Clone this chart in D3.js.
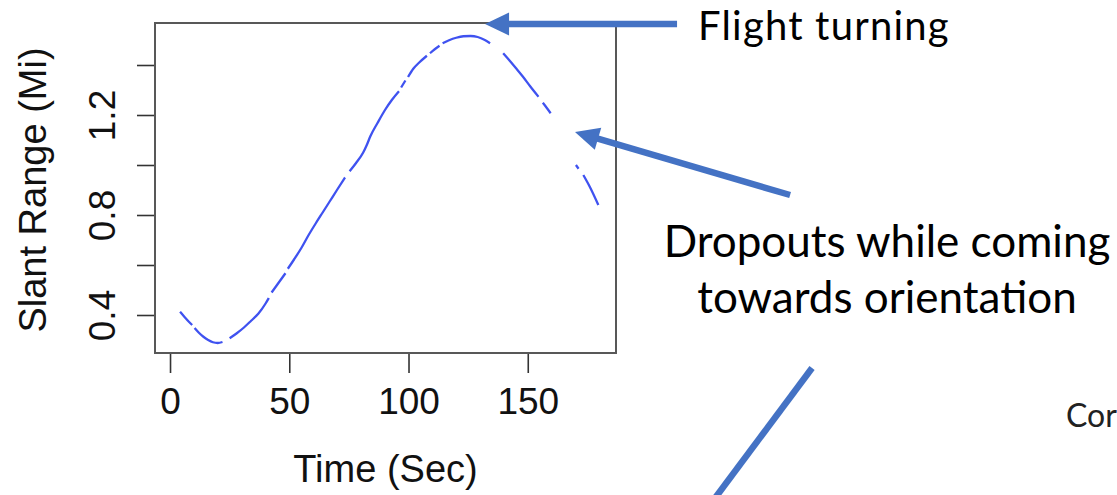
<!DOCTYPE html>
<html>
<head>
<meta charset="utf-8">
<script src="https://cdn.jsdelivr.net/npm/d3@7"></script>
<style>
  html, body { margin: 0; padding: 0; background: #fff; }
  svg { display: block; }
</style>
</head>
<body>
<svg id="chart" width="1117" height="495"></svg>
<script>
// Slant range track over the pass; null = dropout (no range return)
const timeSec = [
  4.2, 6, 8, 9.3, null,
  10.3, 12, 14, 16, 18, 20, 22, null,
  25, 28, 31, 34, 37, 40, 41.4, null,
  42.6, 45, 48.4, null,
  49.4, 52, 55, 58, 61, 64, 67, 70, 73.4, null,
  75.3, 78, 81, 82.5, 84, 87, 90, 93, 96, null,
  96.9, 98.7, null,
  99.8, 102, 104.5, 107.7, null,
  109, 111, 113, null,
  114.3, 117, 120, 123, 126, 129, 132, 134.2, null,
  139.7, 142, 145, 148, 151, 154.5, null,
  156.3, 158, 159.6, null,
  170.2, 171.3, null,
  173.3, 176, 179.6
];
const slantRangeMi = [
  0.413, 0.393, 0.372, 0.360, null,
  0.348, 0.330, 0.313, 0.300, 0.291, 0.288, 0.292, null,
  0.307, 0.327, 0.350, 0.377, 0.405, 0.445, 0.468, null,
  0.490, 0.522, 0.567, null,
  0.585, 0.622, 0.667, 0.718, 0.765, 0.810, 0.855, 0.900, 0.950, null,
  0.975, 1.008, 1.050, 1.080, 1.115, 1.168, 1.218, 1.260, 1.295, null,
  1.310, 1.338, null,
  1.352, 1.385, 1.410, 1.437, null,
  1.447, 1.463, 1.477, null,
  1.487, 1.499, 1.509, 1.515, 1.516, 1.512, 1.500, 1.487, null,
  1.447, 1.422, 1.388, 1.353, 1.315, 1.273, null,
  1.249, 1.228, 1.207, null,
  1.000, 0.985, null,
  0.960, 0.913, 0.840
];

const xTicks = [0, 50, 100, 150];
const yTicks = [0.4, 0.6, 0.8, 1.0, 1.2, 1.4];
const yTickLabels = ["0.4", "", "0.8", "", "1.2", ""];
const xTitle = "Time (Sec)";
const yTitle = "Slant Range (Mi)";

// Callouts, anchored in (time, range) space
const calloutArrows = [
  { from: [212.6, 1.564], to: [132.1, 1.564], head: true },
  { from: [260.0, 0.880], to: [169.8, 1.132], head: true },
  { from: [269.2, 0.188], to: [227.3, -0.348], head: false }
];
const calloutTitle = "Flight turning";
const calloutDropouts = ["Dropouts while coming", "towards orientation"];
const sideText = "Cor";

const svg = d3.select("#chart");
const frame = { left: 155, right: 616, top: 23, bottom: 353 };

const x = d3.scaleLinear().domain([-6.3, 187]).range([frame.left, frame.right]);
const y = d3.scaleLinear().domain([0.248, 1.568]).range([frame.bottom, frame.top]);

const axisFont = "'Liberation Sans', Arial, Helvetica, sans-serif";
const noteFont = "Lato, 'Open Sans', sans-serif";
const blue = "#4472C4";

// Series
const pts = timeSec.map((t, i) => ({ t, v: slantRangeMi[i] }));
const line = d3.line()
  .defined(d => d.t != null && d.v != null)
  .x(d => x(d.t))
  .y(d => y(d.v))
  .curve(d3.curveMonotoneX);

svg.append("path")
  .datum(pts)
  .attr("d", line)
  .attr("fill", "none")
  .attr("stroke", "#3f52f0")
  .attr("stroke-width", 2.3)
  .attr("stroke-linecap", "butt");

// Plot frame
svg.append("rect")
  .attr("x", frame.left).attr("y", frame.top)
  .attr("width", frame.right - frame.left)
  .attr("height", frame.bottom - frame.top)
  .attr("fill", "none")
  .attr("stroke", "#585858")
  .attr("stroke-width", 2);

// X axis
const gx = svg.append("g")
  .attr("transform", `translate(0,${frame.bottom + 1})`)
  .call(d3.axisBottom(x).tickValues(xTicks).tickFormat(d3.format("d"))
    .tickSize(19).tickPadding(15));
gx.select(".domain").remove();
gx.selectAll(".tick line").attr("stroke", "#333").attr("stroke-width", 1.6);
gx.selectAll(".tick text")
  .attr("font-family", axisFont).attr("font-size", 37).attr("fill", "#111");

// Y axis (R-style: labels rotated, every other label shown)
const gy = svg.append("g")
  .attr("transform", `translate(${frame.left - 1},0)`)
  .call(d3.axisLeft(y).tickValues(yTicks)
    .tickFormat((d, i) => yTickLabels[i]).tickSize(17));
gy.select(".domain").remove();
gy.selectAll(".tick line").attr("stroke", "#333").attr("stroke-width", 1.6);
gy.selectAll(".tick text")
  .attr("transform", "rotate(-90)")
  .attr("x", 0).attr("y", -39).attr("dy", 0)
  .attr("text-anchor", "middle")
  .attr("font-family", axisFont).attr("font-size", 37).attr("fill", "#111");

// Axis titles
svg.append("text")
  .attr("x", (frame.left + frame.right) / 2).attr("y", 482)
  .attr("text-anchor", "middle")
  .attr("font-family", axisFont).attr("font-size", 38).attr("fill", "#111")
  .text(xTitle);

svg.append("text")
  .attr("transform", `translate(46,${(frame.top + frame.bottom) / 2 + 2}) rotate(-90)`)
  .attr("text-anchor", "middle")
  .attr("font-family", axisFont).attr("font-size", 38).attr("fill", "#111")
  .text(yTitle);

// Callout arrows
const notes = svg.append("g");
calloutArrows.forEach(a => {
  const x0 = x(a.from[0]), y0 = y(a.from[1]);
  const x1 = x(a.to[0]), y1 = y(a.to[1]);
  const dx = x1 - x0, dy = y1 - y0, len = Math.hypot(dx, dy);
  const ux = dx / len, uy = dy / len;
  const headLen = a.head ? 24 : 0, headHalf = 11.5;
  const bx = x1 - ux * headLen, by = y1 - uy * headLen;
  notes.append("line")
    .attr("x1", x0).attr("y1", y0)
    .attr("x2", a.head ? bx + ux * 2 : x1).attr("y2", a.head ? by + uy * 2 : y1)
    .attr("stroke", blue).attr("stroke-width", 6.5);
  if (a.head) {
    const px = -uy, py = ux;
    notes.append("path")
      .attr("d", `M${x1},${y1}L${bx + px * headHalf},${by + py * headHalf}L${bx - px * headHalf},${by - py * headHalf}Z`)
      .attr("fill", blue);
  }
});

// Callout text
notes.append("text")
  .attr("x", 698).attr("y", 40)
  .attr("font-family", noteFont).attr("font-size", 40)
  .attr("letter-spacing", 1.2).attr("fill", "#000")
  .text(calloutTitle);

notes.selectAll("text.drop")
  .data(calloutDropouts)
  .join("text")
  .attr("class", "drop")
  .attr("x", 887).attr("y", (d, i) => 257 + i * 56)
  .attr("text-anchor", "middle")
  .attr("font-family", noteFont).attr("font-size", 44).attr("fill", "#000")
  .text(d => d);

notes.append("text")
  .attr("x", 1066).attr("y", 427)
  .attr("font-family", noteFont).attr("font-size", 32).attr("fill", "#222")
  .text(sideText);
</script>
</body>
</html>
